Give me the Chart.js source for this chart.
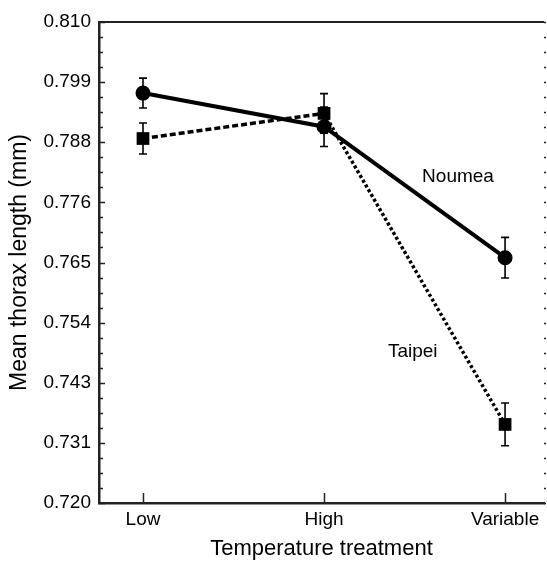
<!DOCTYPE html>
<html>
<head>
<meta charset="utf-8">
<script src="https://cdn.jsdelivr.net/npm/chart.js@4.4.1/dist/chart.umd.min.js"></script>
<style>
    html, body { margin: 0; padding: 0; background: #fff; }
    #wrap { width: 547px; height: 562px; position: relative; }
</style>
</head>
<body>
<div id="wrap"><canvas id="thorax"></canvas></div>
<script>
// Données
const categories = ['Low', 'High', 'Variable'];
const noumeaMean = [0.7967, 0.7904, 0.7659];
const noumeaErr = [0.0028, 0.0037, 0.0038];
const taipeiMean = [0.7882, 0.7929, 0.7347];
const taipeiErr = [0.0029, 0.0037, 0.0040];
const yTickLabels = ['0.720', '0.731', '0.743', '0.754', '0.765', '0.776', '0.788', '0.799', '0.810'];
const yMin = 0.720;
const yMax = 0.810;
const seriesNames = ['Noumea', 'Taipei'];
const seriesLabelPos = [[1.74, 0.781], [1.49, 0.7483]];

const FONT = '"Liberation Sans", Arial, Helvetica, sans-serif';
const majorStep = (yMax - yMin) / (yTickLabels.length - 1);

function toPoints(values) {
    return values.map((v, i) => ({ x: i, y: v }));
}

// Plugin : barres d'erreur, graduations, cadre et étiquettes des séries
const decorPlugin = {
    id: 'decor',
    beforeDatasetsDraw(chart) {
        const ctx = chart.ctx;
        const xs = chart.scales.x, ys = chart.scales.y;
        ctx.save();
        ctx.strokeStyle = '#000';
        ctx.lineWidth = 1.6;
        [[noumeaMean, noumeaErr], [taipeiMean, taipeiErr]].forEach(([means, errs]) => {
            means.forEach((m, i) => {
                const px = xs.getPixelForValue(i);
                const top = ys.getPixelForValue(m + errs[i]);
                const bot = ys.getPixelForValue(m - errs[i]);
                ctx.beginPath();
                ctx.moveTo(px, top); ctx.lineTo(px, bot);
                ctx.moveTo(px - 4, top); ctx.lineTo(px + 4, top);
                ctx.moveTo(px - 4, bot); ctx.lineTo(px + 4, bot);
                ctx.stroke();
            });
        });
        ctx.restore();
    },
    afterDraw(chart) {
        const ctx = chart.ctx;
        const area = chart.chartArea;
        const xs = chart.scales.x, ys = chart.scales.y;
        ctx.save();
        ctx.strokeStyle = '#222';
        // cadre haut
        ctx.lineWidth = 2;
        ctx.beginPath();
        ctx.moveTo(area.left, area.top);
        ctx.lineTo(area.right, area.top);
        ctx.stroke();
        // graduations gauche (vers l'intérieur) et droite
        ctx.lineWidth = 1.5;
        for (let k = 0; k <= (yTickLabels.length - 1) * 4; k++) {
            const py = Math.round(ys.getPixelForValue(yMin + k * majorStep / 4)) + 0.5;
            const len = (k % 4 === 0) ? 6 : 4;
            ctx.beginPath();
            ctx.moveTo(area.left, py); ctx.lineTo(area.left + len, py);
            ctx.moveTo(area.right, py); ctx.lineTo(area.right + 2, py);
            ctx.stroke();
        }
        // graduations en x
        categories.forEach((c, i) => {
            const px = Math.round(xs.getPixelForValue(i)) + 0.5;
            ctx.beginPath();
            ctx.moveTo(px, area.bottom); ctx.lineTo(px, area.bottom - 10);
            ctx.stroke();
        });
        // étiquettes des séries
        ctx.fillStyle = '#000';
        ctx.font = '19px ' + FONT;
        ctx.textAlign = 'center';
        ctx.textBaseline = 'middle';
        seriesNames.forEach((name, i) => {
            const [vx, vy] = seriesLabelPos[i];
            ctx.fillText(name, xs.getPixelForValue(vx), ys.getPixelForValue(vy));
        });
        ctx.restore();
    }
};

const ctx = document.getElementById('thorax').getContext('2d');
new Chart(ctx, {
    type: 'line',
    data: {
        datasets: [
            {
                label: seriesNames[0],
                data: toPoints(noumeaMean),
                borderColor: '#000',
                backgroundColor: '#000',
                borderWidth: 4,
                pointStyle: 'circle',
                pointRadius: 7.5,
                pointBorderWidth: 0,
                tension: 0
            },
            {
                label: seriesNames[1],
                data: toPoints(taipeiMean),
                borderColor: '#000',
                backgroundColor: '#000',
                borderWidth: 3.5,
                pointStyle: 'rect',
                pointRadius: 9,
                pointBorderWidth: 0,
                tension: 0,
                segment: {
                    borderDash: c => c.p0DataIndex === 0 ? [6, 3] : [3, 2.5]
                }
            }
        ]
    },
    options: {
        responsive: true,
        maintainAspectRatio: false,
        animation: false,
        layout: {
            autoPadding: false,
            padding: { top: 22, right: 3, left: 0, bottom: 0 }
        },
        plugins: {
            legend: { display: false },
            tooltip: { enabled: false }
        },
        scales: {
            x: {
                type: 'linear',
                min: -0.243,
                max: 2.215,
                afterBuildTicks: axis => { axis.ticks = categories.map((c, i) => ({ value: i })); },
                afterFit: axis => {
                    axis.height = 59;
                    axis.paddingLeft = 0;
                    axis.paddingRight = 0;
                },
                grid: { display: false },
                border: { display: true, color: '#222', width: 2.5 },
                ticks: {
                    color: '#000',
                    font: { family: FONT, size: 19 },
                    padding: -3,
                    maxRotation: 0,
                    callback: (v) => categories[v] ?? ''
                },
                title: {
                    display: true,
                    text: 'Temperature treatment',
                    color: '#000',
                    font: { family: FONT, size: 22 },
                    padding: { top: 2, bottom: 0 }
                }
            },
            y: {
                type: 'linear',
                min: yMin,
                max: yMax,
                afterBuildTicks: axis => {
                    axis.ticks = yTickLabels.map((t, k) => ({ value: yMin + k * majorStep }));
                },
                afterFit: axis => {
                    axis.width = 99;
                    axis.paddingTop = 0;
                    axis.paddingBottom = 0;
                },
                grid: { display: false },
                border: { display: true, color: '#222', width: 2.5 },
                ticks: {
                    color: '#000',
                    font: { family: FONT, size: 19 },
                    padding: 0,
                    callback: (v, i) => yTickLabels[i]
                },
                title: {
                    display: true,
                    text: 'Mean thorax length (mm)',
                    color: '#000',
                    font: { family: FONT, size: 23 },
                    padding: { top: 6, bottom: 0 }
                }
            }
        }
    },
    plugins: [decorPlugin]
});
</script>
</body>
</html>
